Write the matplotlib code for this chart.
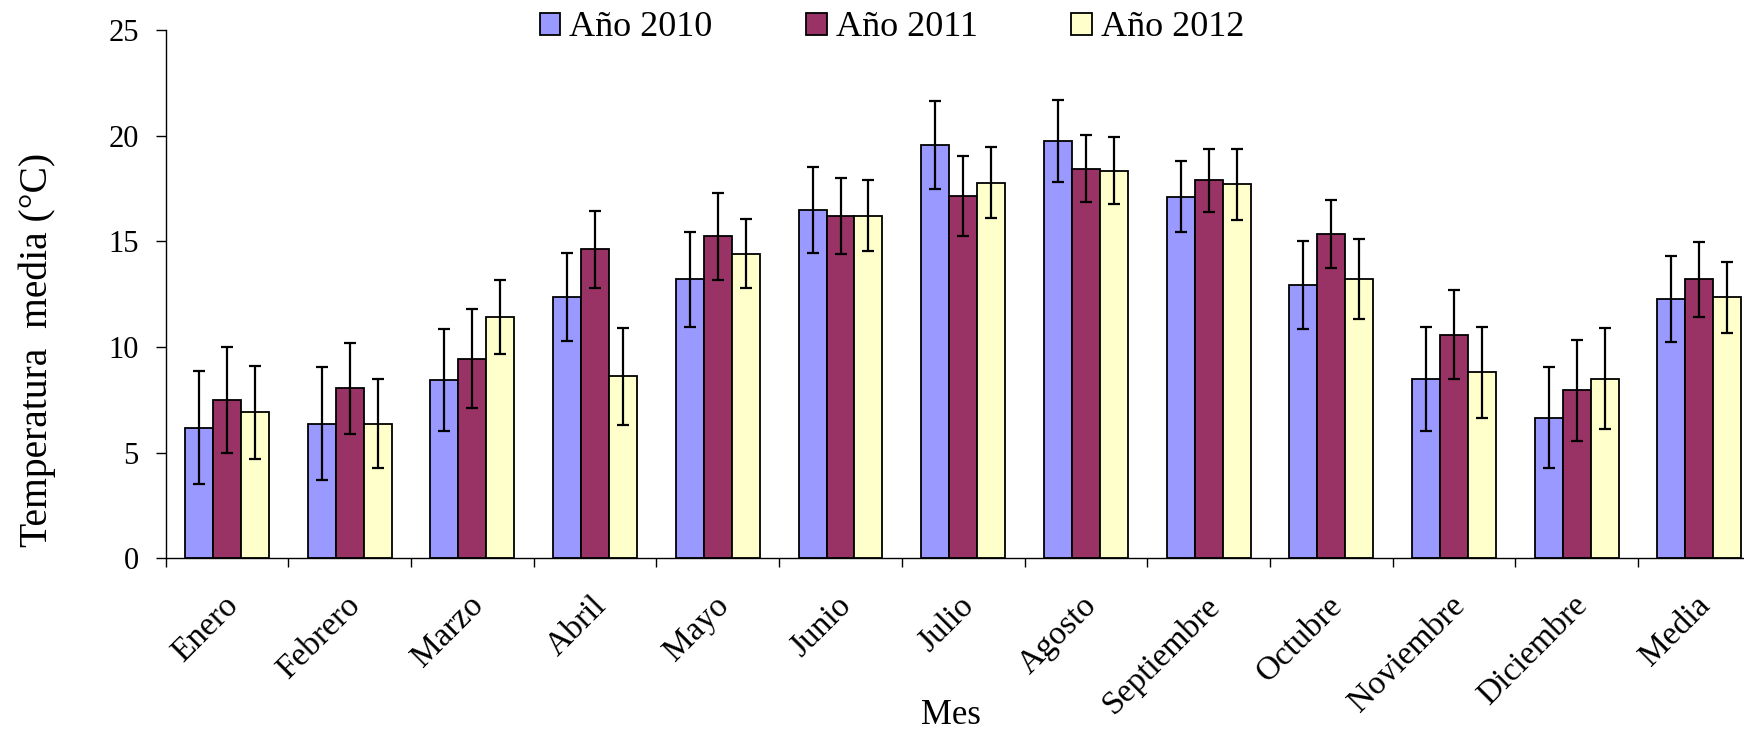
import matplotlib
matplotlib.use("Agg")
import matplotlib.pyplot as plt
import matplotlib.transforms as mtransforms
from matplotlib.patches import Patch
import numpy as np

plt.rcParams['font.family'] = ['Liberation Serif', 'DejaVu Serif']

meses = ["Enero", "Febrero", "Marzo", "Abril", "Mayo", "Junio", "Julio",
         "Agosto", "Septiembre", "Octubre", "Noviembre", "Diciembre", "Media"]

series = ["Año 2010", "Año 2011", "Año 2012"]

t2010 = [6.18, 6.37, 8.44, 12.35, 13.20, 16.48, 19.56, 19.75, 17.11, 12.92, 8.50, 6.65, 12.26]
e2010 = [2.67, 2.68, 2.43, 2.08, 2.25, 2.02, 2.10, 1.93, 1.68, 2.08, 2.46, 2.39, 2.04]

t2011 = [7.49, 8.04, 9.45, 14.62, 15.25, 16.20, 17.13, 18.44, 17.89, 15.35, 10.58, 7.95, 13.20]
e2011 = [2.53, 2.16, 2.33, 1.83, 2.06, 1.78, 1.89, 1.59, 1.50, 1.60, 2.10, 2.39, 1.78]

t2012 = [6.92, 6.37, 11.42, 8.61, 14.42, 16.20, 17.78, 18.34, 17.71, 13.22, 8.80, 8.50, 12.35]
e2012 = [2.20, 2.12, 1.73, 2.30, 1.64, 1.68, 1.70, 1.59, 1.68, 1.88, 2.15, 2.40, 1.69]

colores = ["#9999FF", "#993366", "#FFFFCC"]

W, H, DPI = 17.44, 7.33, 100
fig = plt.figure(figsize=(W, H), dpi=DPI)
# plot area runs past the right edge of the figure
ax = fig.add_axes([165.7 / 1744, (733 - 558.3) / 733, 1595 / 1744, 528.3 / 733])

n = len(meses)
x = np.arange(n) + 0.5
bw = 0.228
offsets = [-bw, 0, bw]
for vals, errs, col, off in zip([t2010, t2011, t2012], [e2010, e2011, e2012], colores, offsets):
    ax.bar(x + off, vals, width=bw, color=col, edgecolor="black", linewidth=1.3,
           yerr=errs, error_kw=dict(ecolor="black", elinewidth=1.6, capsize=4.2,
                                    capthick=1.6), zorder=2)

ax.set_xlim(0, n)
ax.set_ylim(0, 25)
ax.set_yticks([0, 5, 10, 15, 20, 25])
ax.tick_params(axis='y', direction='out', length=6.9, width=1.0, labelsize=22, pad=12.5)

ax.set_xticks(np.arange(n + 1))
ax.set_xticklabels([])
ax.tick_params(axis='x', which='major', direction='out', length=6.5, width=1.0)
ax.set_xticks(x, minor=True)
ax.set_xticklabels(meses, minor=True, rotation=45, ha='right', va='top',
                   rotation_mode='anchor', fontsize=24)
ax.tick_params(axis='x', which='minor', length=0, pad=23)
shift = mtransforms.ScaledTranslation(-4.5 / DPI, 0, fig.dpi_scale_trans)
for lbl in ax.get_xticklabels(minor=True):
    lbl.set_transform(lbl.get_transform() + shift)

for s in ['top', 'right']:
    ax.spines[s].set_visible(False)
for s in ['left', 'bottom']:
    ax.spines[s].set_linewidth(1.0)

fig.text(37 / 1744, 1 - 350 / 733, "Temperatura  media (°C)", rotation=90,
         ha='center', va='center', fontsize=28.5)
fig.text(951 / 1744, 1 - 716 / 733, "Mes", ha='center', va='center', fontsize=25)

handles = [Patch(facecolor=c, edgecolor='black', linewidth=1.3) for c in colores]
fig.legend(handles, series, loc='center', bbox_to_anchor=(892 / 1744, 1 - 28 / 733),
           ncol=3, frameon=False, fontsize=26, handlelength=0.56, handleheight=0.58,
           handletextpad=0.25, columnspacing=2.6, borderaxespad=0, borderpad=0)

fig.savefig("out.png", dpi=DPI)
